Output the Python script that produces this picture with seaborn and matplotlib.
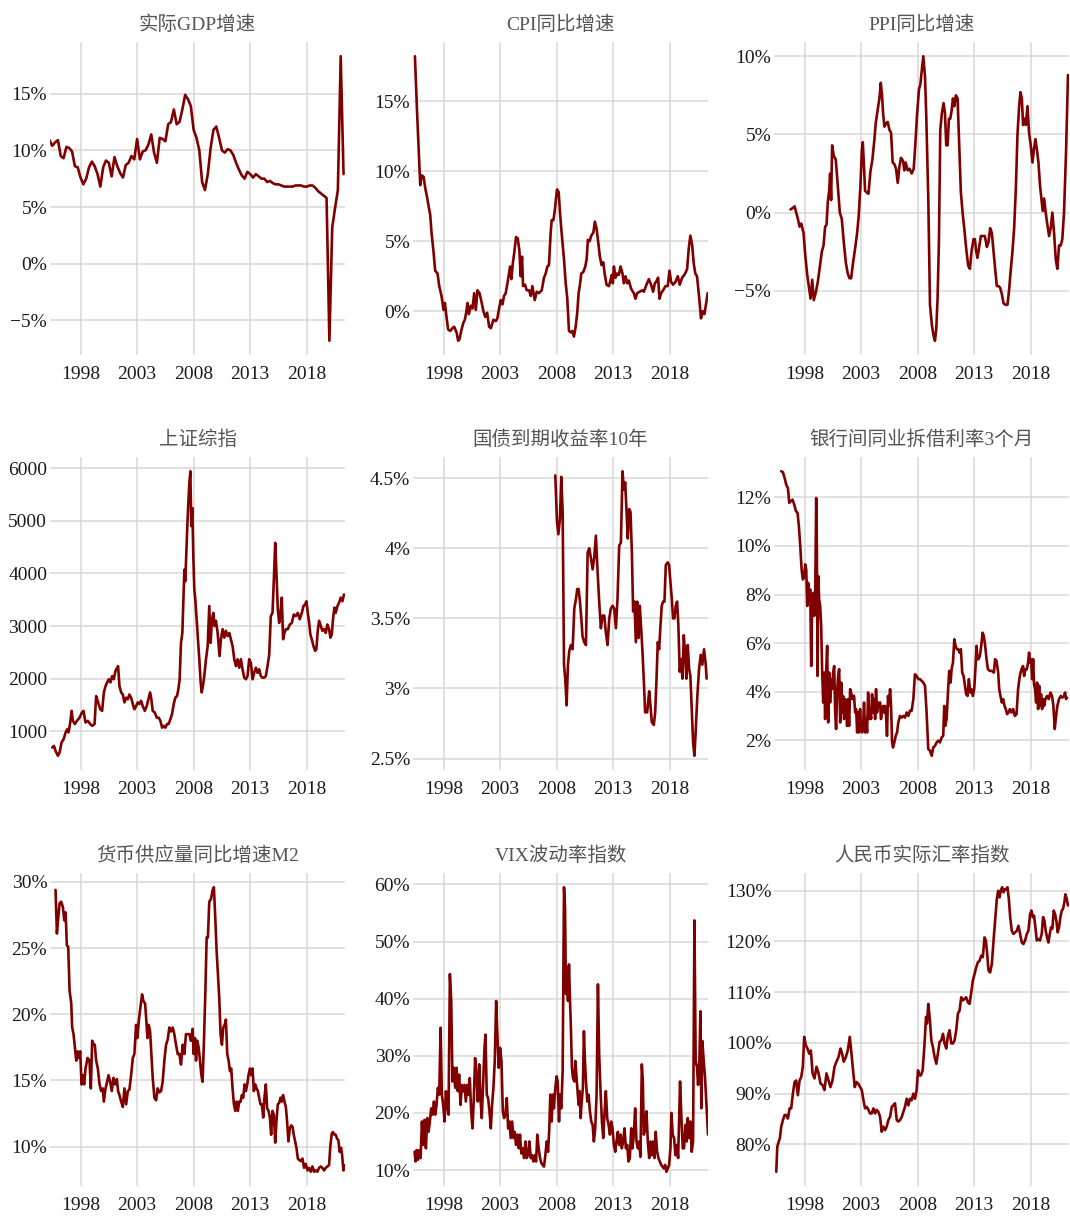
import numpy as np
import pandas as pd
import matplotlib
matplotlib.use("Agg")
import matplotlib.pyplot as plt
import seaborn as sns

# ---------------- data ----------------
gdp_dates = np.arange(1995.25, 2021.26, 0.25)
gdp_values = [10.9, 10.4, 10.7, 10.9, 9.5, 9.3, 10.3, 10.2, 9.9, 8.6,
              8.5, 7.6, 7.0, 7.5, 8.5, 9.0, 8.6, 7.9, 6.8, 8.5,
              9.1, 8.9, 7.7, 9.4, 8.6, 8.0, 7.6, 8.7, 8.9, 9.5,
              9.2, 11.0, 9.2, 9.9, 10.0, 10.5, 11.4, 9.8, 8.9, 11.1,
              11.0, 10.8, 12.3, 12.5, 13.6, 12.3, 12.5, 13.6, 14.9, 14.5,
              13.9, 11.8, 11.1, 10.0, 7.2, 6.5, 7.9, 10.2, 11.8, 12.1,
              11.1, 10.0, 9.8, 10.1, 10.0, 9.6, 8.9, 8.3, 7.8, 7.5,
              8.1, 7.9, 7.6, 7.9, 7.7, 7.5, 7.5, 7.2, 7.3, 7.1,
              7.0, 7.0, 6.9, 6.8, 6.8, 6.8, 6.8, 6.9, 6.9, 6.9,
              6.8, 6.8, 6.9, 6.9, 6.7, 6.4, 6.2, 6.0, 5.8, -6.8,
              3.2, 4.9, 6.5, 18.3, 7.9]

cpi_dates = [1995.47, 1995.65, 1995.79, 1995.94, 1996.06, 1996.24, 1996.38, 1996.53, 1996.68, 1996.82,
             1996.94, 1997.12, 1997.26, 1997.47, 1997.62, 1997.82, 1998.00, 1998.12, 1998.26, 1998.41,
             1998.59, 1998.79, 1998.94, 1999.15, 1999.29, 1999.41, 1999.59, 1999.76, 1999.88, 2000.00,
             2000.12, 2000.24, 2000.41, 2000.56, 2000.71, 2000.85, 2001.00, 2001.18, 2001.35, 2001.53,
             2001.68, 2001.85, 2002.03, 2002.18, 2002.41, 2002.62, 2002.76, 2002.91, 2003.06, 2003.21,
             2003.35, 2003.50, 2003.71, 2003.88, 2004.00, 2004.12, 2004.24, 2004.41, 2004.56, 2004.71,
             2004.82, 2004.94, 2005.03, 2005.21, 2005.35, 2005.56, 2005.71, 2005.85, 2006.06, 2006.24,
             2006.44, 2006.68, 2006.88, 2007.03, 2007.18, 2007.32, 2007.47, 2007.56, 2007.71, 2007.82,
             2007.94, 2008.03, 2008.18, 2008.29, 2008.44, 2008.65, 2008.79, 2008.94, 2009.09, 2009.24,
             2009.38, 2009.53, 2009.68, 2009.82, 2009.94, 2010.06, 2010.18, 2010.35, 2010.53, 2010.65,
             2010.76, 2010.91, 2011.06, 2011.24, 2011.38, 2011.53, 2011.68, 2011.82, 2011.97, 2012.12,
             2012.24, 2012.41, 2012.62, 2012.76, 2012.88, 2012.97, 2013.06, 2013.21, 2013.35, 2013.50,
             2013.65, 2013.82, 2013.94, 2014.09, 2014.24, 2014.38, 2014.59, 2014.82, 2014.97, 2015.12,
             2015.35, 2015.56, 2015.71, 2015.94, 2016.15, 2016.35, 2016.53, 2016.68, 2016.79, 2016.97,
             2017.09, 2017.24, 2017.41, 2017.62, 2017.82, 2017.97, 2018.12, 2018.29, 2018.50, 2018.71,
             2018.88, 2019.09, 2019.29, 2019.53, 2019.68, 2019.82, 2019.97, 2020.12, 2020.26, 2020.41,
             2020.62, 2020.76, 2020.91, 2021.06, 2021.24, 2021.35]
cpi_values = [18.2, 14.4, 11.8, 9.0, 9.7, 9.6, 8.8, 8.2, 7.5, 6.9,
              5.6, 4.2, 2.9, 2.7, 1.8, 1.1, 0.1, 0.6, -0.4, -1.3,
              -1.4, -1.2, -1.1, -1.5, -2.1, -2.0, -1.3, -0.8, -0.6, -0.1,
              0.6, -0.2, 0.4, 0.2, 1.3, 0.1, 1.5, 1.3, 0.7, 0.0,
              -0.4, -0.1, -1.1, -1.2, -0.6, -0.7, -0.5, 0.2, 0.8, 0.5,
              1.1, 1.3, 2.3, 3.2, 2.3, 3.4, 4.1, 5.3, 5.2, 4.3,
              2.5, 3.9, 1.8, 1.9, 1.5, 1.5, 1.1, 1.8, 0.8, 1.4,
              1.3, 1.5, 2.4, 2.7, 3.2, 3.3, 5.6, 6.5, 6.5, 7.1,
              8.0, 8.7, 8.5, 7.1, 5.6, 3.7, 2.1, 0.9, -1.4, -1.5,
              -1.4, -1.8, -1.1, -0.1, 1.3, 1.9, 2.7, 2.8, 3.2, 3.7,
              5.1, 5.0, 5.4, 5.6, 6.4, 5.9, 4.9, 3.9, 3.3, 3.5,
              2.7, 1.9, 1.8, 2.2, 2.6, 2.0, 3.2, 2.4, 2.7, 2.6,
              3.2, 2.7, 2.0, 2.5, 2.0, 2.2, 1.6, 1.3, 0.9, 1.3,
              1.4, 1.5, 1.4, 1.9, 2.3, 1.9, 1.4, 2.0, 2.1, 2.4,
              0.9, 1.3, 1.5, 1.8, 1.8, 2.9, 2.1, 1.9, 2.1, 2.5,
              1.9, 2.4, 2.6, 3.0, 4.5, 5.4, 4.8, 3.4, 2.7, 2.5,
              0.8, -0.5, 0.0, -0.2, 0.7, 1.3]

ppi_dates = [1996.76, 1996.97, 1997.12, 1997.26, 1997.41, 1997.56, 1997.71, 1997.91, 1998.06, 1998.24,
             1998.41, 1998.53, 1998.68, 1998.82, 1999.00, 1999.18, 1999.35, 1999.53, 1999.68, 1999.82,
             1999.94, 2000.06, 2000.18, 2000.26, 2000.35, 2000.44, 2000.59, 2000.76, 2000.94, 2001.12,
             2001.29, 2001.47, 2001.65, 2001.82, 2001.97, 2002.12, 2002.29, 2002.47, 2002.65, 2002.79,
             2002.94, 2003.06, 2003.15, 2003.24, 2003.35, 2003.47, 2003.65, 2003.82, 2004.00, 2004.18,
             2004.29, 2004.47, 2004.62, 2004.74, 2004.85, 2004.94, 2005.06, 2005.21, 2005.35, 2005.50,
             2005.65, 2005.79, 2005.94, 2006.09, 2006.24, 2006.38, 2006.53, 2006.71, 2006.82, 2006.94,
             2007.12, 2007.29, 2007.47, 2007.65, 2007.79, 2007.94, 2008.12, 2008.24, 2008.35, 2008.50,
             2008.65, 2008.76, 2008.94, 2009.09, 2009.26, 2009.41, 2009.53, 2009.65, 2009.76, 2009.88,
             2010.00, 2010.15, 2010.29, 2010.41, 2010.53, 2010.65, 2010.76, 2010.88, 2011.00, 2011.12,
             2011.24, 2011.38, 2011.53, 2011.68, 2011.82, 2011.97, 2012.12, 2012.29, 2012.47, 2012.62,
             2012.76, 2012.94, 2013.06, 2013.18, 2013.29, 2013.44, 2013.59, 2013.74, 2013.94, 2014.12,
             2014.26, 2014.41, 2014.56, 2014.71, 2014.85, 2015.00, 2015.15, 2015.29, 2015.44, 2015.59,
             2015.76, 2015.94, 2016.09, 2016.24, 2016.38, 2016.53, 2016.68, 2016.82, 2016.97, 2017.09,
             2017.21, 2017.32, 2017.44, 2017.56, 2017.71, 2017.85, 2018.00, 2018.15, 2018.29, 2018.41,
             2018.53, 2018.68, 2018.82, 2018.94, 2019.06, 2019.18, 2019.32, 2019.47, 2019.62, 2019.76,
             2019.91, 2020.06, 2020.21, 2020.35, 2020.50, 2020.65, 2020.79, 2020.94, 2021.12, 2021.29]
ppi_values = [0.2, 0.3, 0.4, 0.0, -0.4, -0.9, -0.7, -1.3, -2.7, -4.0,
              -4.9, -5.5, -4.3, -5.6, -5.1, -4.4, -3.5, -2.5, -2.1, -0.9,
              -0.8, 0.7, 1.4, 2.5, 0.8, 4.3, 3.6, 3.4, 1.7, 0.0,
              -0.4, -1.9, -3.2, -3.9, -4.2, -4.2, -3.2, -2.3, -1.3, -0.2,
              1.7, 3.9, 4.5, 3.2, 1.4, 1.3, 1.2, 2.6, 3.4, 4.7,
              5.7, 6.6, 7.3, 8.3, 7.5, 6.4, 5.5, 5.7, 5.8, 5.3,
              5.1, 3.2, 3.1, 2.8, 1.9, 2.9, 3.5, 3.3, 2.7, 3.2,
              2.7, 2.8, 2.5, 2.8, 4.3, 6.2, 7.9, 8.2, 9.0, 10.0,
              8.7, 6.2, 0.9, -5.9, -7.2, -7.9, -8.2, -7.4, -5.5, -1.9,
              5.3, 6.4, 7.0, 6.4, 4.3, 4.3, 6.0, 6.0, 6.5, 7.3,
              6.8, 7.5, 7.3, 4.1, 1.3, 0.0, -1.0, -2.3, -3.4, -3.6,
              -2.5, -1.7, -1.7, -2.5, -2.9, -2.2, -1.5, -1.5, -1.5, -2.2,
              -1.9, -1.0, -1.3, -2.5, -3.6, -4.7, -4.7, -4.8, -5.2, -5.8,
              -5.9, -5.9, -4.9, -3.6, -2.5, -1.0, 1.5, 4.9, 6.8, 7.7,
              7.3, 5.6, 6.0, 5.6, 6.8, 5.1, 4.3, 3.2, 4.1, 4.7,
              4.1, 3.2, 1.7, 0.9, 0.1, 0.9, 0.0, -0.8, -1.5, -1.0,
              0.0, -1.3, -3.0, -3.6, -2.1, -2.1, -1.7, 0.0, 3.9, 8.8]

sse_dates = [1995.50, 1995.65, 1995.79, 1996.00, 1996.15, 1996.32, 1996.50, 1996.68, 1996.82, 1996.94,
             1997.09, 1997.21, 1997.32, 1997.50, 1997.68, 1997.91, 1998.12, 1998.26, 1998.44, 1998.65,
             1998.85, 1999.03, 1999.24, 1999.38, 1999.56, 1999.74, 1999.91, 2000.06, 2000.21, 2000.35,
             2000.50, 2000.65, 2000.79, 2000.94, 2001.09, 2001.24, 2001.32, 2001.44, 2001.59, 2001.74,
             2001.88, 2002.03, 2002.18, 2002.32, 2002.47, 2002.62, 2002.76, 2002.91, 2003.06, 2003.21,
             2003.35, 2003.50, 2003.68, 2003.85, 2004.03, 2004.15, 2004.26, 2004.38, 2004.56, 2004.74,
             2004.91, 2005.06, 2005.21, 2005.35, 2005.50, 2005.65, 2005.79, 2005.94, 2006.09, 2006.24,
             2006.38, 2006.53, 2006.65, 2006.76, 2006.88, 2007.00, 2007.09, 2007.18, 2007.26, 2007.35,
             2007.44, 2007.53, 2007.62, 2007.71, 2007.79, 2007.88, 2007.97, 2008.06, 2008.15, 2008.26,
             2008.38, 2008.50, 2008.62, 2008.71, 2008.82, 2008.94, 2009.09, 2009.24, 2009.38, 2009.50,
             2009.62, 2009.74, 2009.85, 2009.97, 2010.12, 2010.29, 2010.41, 2010.56, 2010.71, 2010.85,
             2011.00, 2011.15, 2011.29, 2011.44, 2011.59, 2011.74, 2011.88, 2012.03, 2012.18, 2012.32,
             2012.47, 2012.62, 2012.76, 2012.91, 2013.06, 2013.21, 2013.35, 2013.50, 2013.65, 2013.79,
             2013.94, 2014.09, 2014.24, 2014.38, 2014.53, 2014.68, 2014.82, 2014.97, 2015.09, 2015.21,
             2015.32, 2015.44, 2015.56, 2015.68, 2015.79, 2015.91, 2016.03, 2016.15, 2016.32, 2016.50,
             2016.68, 2016.85, 2017.03, 2017.21, 2017.38, 2017.56, 2017.71, 2017.85, 2017.97, 2018.09,
             2018.21, 2018.32, 2018.44, 2018.59, 2018.74, 2018.85, 2018.97, 2019.09, 2019.24, 2019.38,
             2019.53, 2019.68, 2019.82, 2019.97, 2020.09, 2020.21, 2020.32, 2020.44, 2020.56, 2020.71,
             2020.85, 2021.00, 2021.15, 2021.29]
sse_values = [694, 725, 630, 537, 600, 790, 850, 980, 1040, 980,
              1170, 1390, 1200, 1140, 1200, 1260, 1360, 1390, 1170, 1200,
              1140, 1105, 1140, 1670, 1550, 1420, 1390, 1740, 1860, 1930,
              1990, 1930, 2050, 1990, 2150, 2210, 2240, 1860, 1740, 1700,
              1550, 1640, 1610, 1700, 1640, 1520, 1420, 1480, 1550, 1520,
              1580, 1480, 1390, 1480, 1640, 1740, 1610, 1390, 1360, 1260,
              1260, 1200, 1070, 1105, 1070, 1140, 1140, 1230, 1330, 1520,
              1640, 1670, 1800, 1990, 2680, 2870, 3500, 4070, 3850, 4390,
              4900, 5340, 5720, 5940, 4900, 5240, 4330, 3690, 3500, 3130,
              2750, 2370, 1930, 1740, 1860, 2050, 2370, 2620, 3380, 2680,
              3130, 3250, 3000, 3100, 2870, 2430, 2750, 2940, 2780, 2910,
              2810, 2870, 2750, 2620, 2370, 2240, 2370, 2210, 2370, 2180,
              2020, 1990, 2050, 2370, 2300, 1990, 2110, 2210, 2110, 2180,
              2050, 2020, 2020, 2050, 2240, 2460, 3190, 3250, 3880, 4580,
              4010, 3320, 3060, 3250, 3540, 2750, 2870, 2940, 2940, 3030,
              3060, 3220, 3190, 3250, 3130, 3250, 3380, 3410, 3470, 3250,
              3060, 2840, 2750, 2620, 2530, 2560, 2910, 3100, 3000, 2910,
              2940, 2870, 3030, 2940, 2780, 2840, 3130, 3350, 3250, 3380,
              3440, 3540, 3470, 3600]

bond_dates = [2007.88, 2008.03, 2008.15, 2008.29, 2008.41, 2008.53, 2008.65, 2008.76, 2008.88, 2009.00,
              2009.12, 2009.26, 2009.41, 2009.56, 2009.71, 2009.82, 2009.94, 2010.06, 2010.18, 2010.29,
              2010.44, 2010.59, 2010.74, 2010.88, 2011.03, 2011.18, 2011.32, 2011.47, 2011.62, 2011.76,
              2011.91, 2012.06, 2012.21, 2012.35, 2012.50, 2012.65, 2012.79, 2012.94, 2013.09, 2013.24,
              2013.38, 2013.53, 2013.68, 2013.82, 2013.94, 2014.06, 2014.18, 2014.29, 2014.41, 2014.53,
              2014.65, 2014.76, 2014.88, 2015.00, 2015.12, 2015.24, 2015.35, 2015.47, 2015.59, 2015.71,
              2015.82, 2016.00, 2016.18, 2016.29, 2016.41, 2016.59, 2016.71, 2016.82, 2016.94, 2017.06,
              2017.18, 2017.29, 2017.41, 2017.53, 2017.65, 2017.82, 2017.94, 2018.06, 2018.18, 2018.29,
              2018.41, 2018.53, 2018.65, 2018.76, 2018.88, 2019.00, 2019.12, 2019.24, 2019.35, 2019.47,
              2019.59, 2019.71, 2019.82, 2019.94, 2020.06, 2020.18, 2020.29, 2020.44, 2020.59, 2020.74,
              2020.88, 2021.03, 2021.18, 2021.26]
bond_values = [4.52, 4.19, 4.10, 4.21, 4.51, 4.26, 3.17, 3.07, 2.88, 3.17,
               3.27, 3.31, 3.28, 3.57, 3.64, 3.71, 3.71, 3.62, 3.50, 3.37,
               3.33, 3.31, 3.97, 4.00, 3.93, 3.85, 3.93, 4.09, 3.83, 3.62,
               3.43, 3.52, 3.52, 3.40, 3.31, 3.50, 3.57, 3.59, 3.57, 3.43,
               3.64, 4.02, 4.04, 4.55, 4.42, 4.47, 4.26, 4.07, 4.28, 4.26,
               3.97, 3.55, 3.62, 3.33, 3.62, 3.36, 3.59, 3.43, 3.26, 3.05,
               2.83, 2.83, 2.98, 2.88, 2.76, 2.74, 2.83, 3.05, 3.33, 3.28,
               3.45, 3.59, 3.62, 3.62, 3.88, 3.90, 3.88, 3.76, 3.64, 3.50,
               3.50, 3.59, 3.62, 3.45, 3.12, 3.21, 3.07, 3.38, 3.26, 3.07,
               3.31, 3.14, 3.09, 2.86, 2.62, 2.52, 2.69, 2.95, 3.14, 3.24,
               3.17, 3.28, 3.17, 3.07]

ib_dates = [1995.94, 1996.09, 1996.24, 1996.38, 1996.53, 1996.65, 1996.79, 1996.94, 1997.09, 1997.24,
            1997.38, 1997.50, 1997.62, 1997.74, 1997.85, 1997.94, 1998.06, 1998.15, 1998.24, 1998.32,
            1998.41, 1998.50, 1998.59, 1998.68, 1998.76, 1998.85, 1998.94, 1999.03, 1999.09, 1999.15,
            1999.21, 1999.29, 1999.38, 1999.47, 1999.56, 1999.65, 1999.74, 1999.82, 1999.91, 2000.00,
            2000.09, 2000.18, 2000.26, 2000.35, 2000.44, 2000.53, 2000.62, 2000.71, 2000.79, 2000.88,
            2000.97, 2001.06, 2001.15, 2001.24, 2001.32, 2001.41, 2001.50, 2001.59, 2001.68, 2001.76,
            2001.85, 2001.94, 2002.03, 2002.12, 2002.21, 2002.29, 2002.38, 2002.47, 2002.56, 2002.65,
            2002.74, 2002.82, 2002.91, 2003.00, 2003.09, 2003.18, 2003.26, 2003.35, 2003.44, 2003.53,
            2003.62, 2003.71, 2003.79, 2003.88, 2003.97, 2004.06, 2004.15, 2004.24, 2004.32, 2004.41,
            2004.50, 2004.59, 2004.68, 2004.76, 2004.85, 2004.94, 2005.03, 2005.12, 2005.21, 2005.29,
            2005.38, 2005.47, 2005.56, 2005.65, 2005.74, 2005.82, 2005.94, 2006.06, 2006.18, 2006.29,
            2006.44, 2006.59, 2006.74, 2006.88, 2007.03, 2007.18, 2007.32, 2007.47, 2007.62, 2007.76,
            2007.91, 2008.06, 2008.21, 2008.35, 2008.50, 2008.65, 2008.79, 2008.94, 2009.09, 2009.24,
            2009.38, 2009.53, 2009.68, 2009.82, 2009.97, 2010.12, 2010.26, 2010.35, 2010.44, 2010.56,
            2010.68, 2010.79, 2010.91, 2011.00, 2011.12, 2011.24, 2011.35, 2011.47, 2011.59, 2011.71,
            2011.82, 2011.94, 2012.06, 2012.18, 2012.29, 2012.41, 2012.53, 2012.65, 2012.76, 2012.88,
            2013.00, 2013.12, 2013.21, 2013.29, 2013.38, 2013.50, 2013.62, 2013.74, 2013.85, 2013.97,
            2014.09, 2014.21, 2014.38, 2014.56, 2014.74, 2014.85, 2014.97, 2015.12, 2015.21, 2015.32,
            2015.44, 2015.56, 2015.68, 2015.79, 2015.91, 2016.03, 2016.15, 2016.29, 2016.44, 2016.59,
            2016.74, 2016.88, 2017.03, 2017.18, 2017.32, 2017.41, 2017.53, 2017.65, 2017.76, 2017.85,
            2017.94, 2018.03, 2018.12, 2018.21, 2018.29, 2018.38, 2018.47, 2018.56, 2018.65, 2018.74,
            2018.82, 2018.91, 2019.00, 2019.09, 2019.18, 2019.29, 2019.44, 2019.59, 2019.74, 2019.88,
            2020.00, 2020.12, 2020.24, 2020.35, 2020.50, 2020.65, 2020.79, 2020.94, 2021.03, 2021.12,
            2021.21]
ib_values = [13.07, 13.03, 12.79, 12.52, 12.38, 11.77, 11.84, 11.90, 11.70, 11.43,
             11.36, 10.81, 10.0, 9.03, 8.62, 8.69, 9.24, 9.03, 7.53, 8.48,
             7.94, 8.21, 5.06, 7.80, 8.07, 7.12, 7.80, 11.97, 10.0, 4.65,
             8.76, 7.80, 7.53, 6.71, 4.79, 3.56, 4.79, 2.88, 4.79, 5.89,
             2.74, 4.79, 3.56, 4.52, 4.11, 4.79, 5.06, 3.15, 2.47, 3.97,
             4.65, 4.93, 2.74, 4.38, 3.15, 3.83, 2.88, 3.70, 3.56, 2.60,
             3.70, 2.60, 4.11, 3.97, 3.70, 3.83, 3.83, 3.15, 3.29, 2.33,
             3.15, 2.33, 3.29, 2.47, 2.33, 2.60, 3.56, 2.33, 2.88, 2.33,
             3.97, 2.88, 3.29, 2.88, 3.90, 3.15, 3.70, 2.88, 4.11, 3.15,
             3.56, 3.42, 3.56, 2.88, 3.29, 3.42, 3.15, 3.42, 3.01, 2.19,
             3.83, 3.42, 4.11, 3.42, 1.92, 1.71, 1.92, 2.19, 2.33, 2.74,
             3.01, 2.94, 3.01, 2.94, 3.15, 3.01, 3.22, 3.22, 3.70, 4.72,
             4.65, 4.52, 4.52, 4.45, 4.38, 4.25, 3.15, 1.64, 1.58, 1.37,
             1.71, 1.78, 1.92, 1.99, 1.92, 2.12, 2.19, 3.42, 2.60, 2.88,
             3.97, 4.86, 4.38, 4.93, 5.20, 6.16, 5.89, 5.75, 5.75, 5.61,
             5.75, 4.79, 4.65, 4.25, 3.90, 3.83, 4.52, 3.97, 4.11, 3.83,
             4.11, 5.06, 5.89, 5.34, 5.34, 5.47, 5.89, 6.43, 6.30, 5.89,
             5.34, 4.93, 4.86, 4.86, 4.79, 5.34, 5.27, 4.79, 4.11, 3.83,
             3.56, 3.70, 3.42, 3.29, 3.08, 3.15, 3.29, 3.15, 3.29, 3.01,
             3.08, 4.11, 4.65, 4.93, 5.06, 4.65, 4.93, 4.93, 5.20, 5.61,
             5.20, 5.34, 4.52, 5.34, 4.31, 4.11, 3.56, 4.38, 3.29, 4.25,
             3.42, 3.90, 3.29, 3.70, 3.42, 3.70, 3.83, 3.70, 3.97, 3.83,
             3.42, 2.47, 3.01, 3.42, 3.70, 3.83, 3.76, 3.83, 3.97, 3.70,
             3.76]

m2_dates = [1995.79, 1995.91, 1996.03, 1996.15, 1996.29, 1996.44, 1996.56, 1996.68, 1996.79, 1996.91,
            1997.03, 1997.18, 1997.26, 1997.38, 1997.50, 1997.62, 1997.74, 1997.85, 1997.97, 1998.09,
            1998.21, 1998.32, 1998.44, 1998.62, 1998.79, 1998.91, 1999.03, 1999.15, 1999.26, 1999.38,
            1999.53, 1999.68, 1999.82, 1999.97, 2000.06, 2000.21, 2000.35, 2000.47, 2000.62, 2000.76,
            2000.91, 2001.06, 2001.21, 2001.32, 2001.44, 2001.59, 2001.74, 2001.88, 2002.03, 2002.18,
            2002.32, 2002.47, 2002.62, 2002.76, 2002.91, 2003.03, 2003.15, 2003.29, 2003.44, 2003.56,
            2003.71, 2003.82, 2003.91, 2004.03, 2004.15, 2004.26, 2004.38, 2004.53, 2004.68, 2004.82,
            2004.97, 2005.12, 2005.26, 2005.41, 2005.56, 2005.71, 2005.85, 2006.00, 2006.15, 2006.29,
            2006.44, 2006.59, 2006.74, 2006.88, 2007.03, 2007.18, 2007.32, 2007.47, 2007.62, 2007.76,
            2007.91, 2008.00, 2008.12, 2008.21, 2008.32, 2008.44, 2008.56, 2008.68, 2008.79, 2008.91,
            2009.03, 2009.15, 2009.26, 2009.38, 2009.53, 2009.68, 2009.79, 2009.91, 2010.03, 2010.15,
            2010.26, 2010.38, 2010.50, 2010.62, 2010.74, 2010.85, 2010.97, 2011.09, 2011.21, 2011.32,
            2011.44, 2011.56, 2011.68, 2011.79, 2011.91, 2012.03, 2012.15, 2012.26, 2012.38, 2012.50,
            2012.62, 2012.74, 2012.85, 2012.97, 2013.09, 2013.21, 2013.32, 2013.44, 2013.56, 2013.68,
            2013.79, 2013.91, 2014.03, 2014.15, 2014.26, 2014.38, 2014.50, 2014.62, 2014.74, 2014.85,
            2014.97, 2015.09, 2015.21, 2015.32, 2015.44, 2015.56, 2015.68, 2015.79, 2015.91, 2016.03,
            2016.15, 2016.26, 2016.38, 2016.50, 2016.62, 2016.74, 2016.85, 2016.97, 2017.09, 2017.21,
            2017.32, 2017.47, 2017.62, 2017.76, 2017.91, 2018.06, 2018.21, 2018.35, 2018.50, 2018.65,
            2018.79, 2018.94, 2019.09, 2019.24, 2019.38, 2019.53, 2019.68, 2019.82, 2019.97, 2020.09,
            2020.21, 2020.32, 2020.44, 2020.56, 2020.68, 2020.79, 2020.91, 2021.03, 2021.12, 2021.24,
            2021.32]
m2_values = [29.4, 26.1, 27.3, 28.4, 28.5, 28.1, 27.1, 27.7, 25.2, 25.1,
             21.8, 20.8, 19.0, 18.5, 17.5, 16.5, 17.2, 16.7, 17.2, 14.7,
             15.4, 14.7, 15.9, 16.7, 16.5, 14.4, 18.0, 17.7, 17.7, 16.5,
             15.9, 14.7, 14.2, 14.4, 13.4, 14.4, 14.9, 15.4, 14.9, 14.2,
             15.2, 14.7, 15.1, 14.2, 13.9, 13.4, 13.0, 14.4, 13.2, 14.2,
             14.3, 15.4, 16.7, 17.0, 19.2, 18.2, 19.5, 20.5, 21.5, 21.0,
             20.8, 19.5, 18.2, 19.2, 18.7, 17.0, 15.2, 13.7, 13.5, 14.4,
             14.1, 14.2, 14.9, 16.5, 17.7, 18.1, 19.0, 18.7, 19.0, 18.5,
             17.7, 17.0, 17.0, 16.2, 17.7, 17.0, 18.5, 18.5, 18.5, 18.0,
             18.9, 17.0, 18.2, 16.5, 18.0, 17.5, 16.5, 15.4, 14.9, 18.0,
             21.5, 25.8, 25.8, 28.5, 28.7, 29.4, 29.6, 27.3, 24.8, 23.0,
             21.3, 18.5, 17.7, 19.0, 19.2, 19.6, 17.0, 16.5, 15.7, 15.9,
             14.4, 13.2, 12.7, 13.4, 12.7, 13.4, 13.4, 13.9, 13.7, 14.7,
             14.2, 14.7, 15.4, 15.9, 15.4, 15.9, 14.2, 14.7, 14.4, 14.2,
             13.7, 13.2, 13.2, 12.2, 13.7, 14.7, 12.9, 12.7, 12.2, 10.9,
             12.7, 12.4, 10.3, 11.9, 13.2, 13.3, 13.7, 13.4, 13.9, 13.4,
             13.0, 11.9, 10.4, 11.4, 11.6, 11.5, 10.9, 10.4, 9.9, 9.1,
             9.0, 8.9, 9.1, 8.4, 8.7, 8.2, 8.4, 8.1, 8.5, 8.1,
             8.2, 8.1, 8.4, 8.5, 8.4, 8.2, 8.4, 8.5, 8.6, 10.1,
             11.0, 11.1, 10.9, 10.9, 10.6, 10.5, 9.6, 9.9, 9.4, 8.2,
             8.6]

vix_dates = [1995.44, 1995.53, 1995.62, 1995.74, 1995.85, 1995.97, 1996.09, 1996.21, 1996.32, 1996.44,
             1996.56, 1996.68, 1996.79, 1996.91, 1997.03, 1997.15, 1997.26, 1997.38, 1997.50, 1997.62,
             1997.74, 1997.85, 1997.97, 1998.09, 1998.21, 1998.32, 1998.44, 1998.56, 1998.68, 1998.79,
             1998.91, 1999.03, 1999.15, 1999.26, 1999.38, 1999.50, 1999.62, 1999.74, 1999.85, 1999.97,
             2000.09, 2000.21, 2000.32, 2000.44, 2000.56, 2000.68, 2000.79, 2000.91, 2001.03, 2001.15,
             2001.26, 2001.38, 2001.50, 2001.62, 2001.71, 2001.82, 2001.94, 2002.06, 2002.18, 2002.29,
             2002.41, 2002.53, 2002.65, 2002.76, 2002.88, 2003.00, 2003.12, 2003.24, 2003.35, 2003.47,
             2003.59, 2003.71, 2003.82, 2003.94, 2004.06, 2004.18, 2004.29, 2004.41, 2004.53, 2004.65,
             2004.76, 2004.88, 2005.00, 2005.12, 2005.24, 2005.35, 2005.47, 2005.59, 2005.71, 2005.82,
             2005.94, 2006.06, 2006.18, 2006.29, 2006.41, 2006.53, 2006.65, 2006.76, 2006.88, 2007.00,
             2007.12, 2007.24, 2007.35, 2007.44, 2007.56, 2007.65, 2007.76, 2007.88, 2008.00, 2008.09,
             2008.21, 2008.29, 2008.41, 2008.53, 2008.65, 2008.74, 2008.82, 2008.91, 2009.00, 2009.09,
             2009.18, 2009.26, 2009.35, 2009.44, 2009.56, 2009.65, 2009.74, 2009.82, 2009.94, 2010.03,
             2010.12, 2010.21, 2010.32, 2010.41, 2010.50, 2010.59, 2010.71, 2010.82, 2010.94, 2011.06,
             2011.18, 2011.29, 2011.41, 2011.53, 2011.65, 2011.76, 2011.88, 2012.00, 2012.12, 2012.24,
             2012.35, 2012.47, 2012.59, 2012.71, 2012.82, 2012.94, 2013.06, 2013.18, 2013.29, 2013.41,
             2013.53, 2013.65, 2013.76, 2013.88, 2014.00, 2014.12, 2014.24, 2014.35, 2014.47, 2014.59,
             2014.71, 2014.82, 2014.94, 2015.06, 2015.18, 2015.29, 2015.41, 2015.53, 2015.62, 2015.71,
             2015.82, 2015.94, 2016.06, 2016.18, 2016.29, 2016.41, 2016.53, 2016.65, 2016.76, 2016.88,
             2017.00, 2017.12, 2017.24, 2017.35, 2017.47, 2017.59, 2017.71, 2017.82, 2017.94, 2018.06,
             2018.15, 2018.26, 2018.38, 2018.50, 2018.62, 2018.74, 2018.82, 2018.91, 2019.03, 2019.15,
             2019.26, 2019.38, 2019.50, 2019.59, 2019.71, 2019.82, 2019.94, 2020.06, 2020.18, 2020.29,
             2020.41, 2020.50, 2020.62, 2020.71, 2020.79, 2020.88, 2021.00, 2021.12, 2021.24, 2021.38]
vix_values = [13.2, 11.5, 13.5, 11.8, 13.5, 12.1, 18.5, 14.4, 18.8, 13.8,
              19.1, 16.7, 18.5, 20.8, 19.7, 22.0, 19.7, 21.4, 24.4, 23.2,
              34.9, 23.2, 21.4, 18.5, 23.8, 21.4, 19.7, 44.3, 39.6, 25.5,
              27.9, 24.4, 27.9, 23.8, 26.7, 21.4, 24.9, 23.8, 24.9, 22.0,
              24.9, 23.2, 26.1, 20.3, 17.3, 22.6, 29.6, 26.7, 22.0, 28.5,
              22.6, 19.1, 25.5, 31.4, 33.7, 23.2, 22.6, 20.3, 17.3, 21.4,
              24.4, 29.1, 39.6, 33.7, 27.9, 31.4, 29.1, 20.3, 19.1, 19.7,
              22.6, 17.3, 18.5, 15.6, 18.5, 15.6, 16.7, 14.4, 16.2, 13.8,
              16.2, 12.9, 13.8, 12.1, 15.0, 12.1, 12.6, 15.0, 12.1, 12.6,
              11.5, 12.6, 11.5, 16.2, 13.8, 12.1, 11.2, 10.9, 10.6, 12.6,
              15.0, 13.2, 17.3, 23.2, 18.5, 23.2, 20.8, 24.4, 26.4, 25.5,
              18.5, 23.2, 20.8, 27.3, 59.5, 56.0, 40.8, 45.5, 39.6, 46.0,
              39.6, 34.9, 27.9, 26.1, 25.5, 29.1, 26.7, 24.4, 21.4, 23.8,
              19.1, 22.0, 24.4, 34.3, 29.1, 25.5, 22.0, 23.2, 20.3, 18.5,
              17.9, 15.0, 17.3, 23.2, 42.5, 30.2, 23.8, 18.5, 15.6, 20.3,
              23.8, 19.1, 17.9, 16.2, 18.5, 17.3, 14.4, 13.2, 15.0, 16.7,
              14.4, 16.2, 13.8, 15.0, 17.3, 13.8, 14.4, 11.5, 12.1, 17.3,
              13.8, 16.2, 20.8, 15.0, 13.8, 15.0, 12.3, 28.5, 25.5, 16.2,
              17.3, 20.3, 15.0, 12.1, 15.0, 12.6, 15.0, 12.1, 16.7, 13.2,
              12.1, 11.5, 10.9, 10.6, 10.3, 10.9, 9.7, 10.3, 10.9, 13.8,
              20.0, 16.2, 15.6, 12.6, 14.4, 12.1, 18.5, 25.5, 19.1, 13.8,
              13.8, 17.9, 15.0, 19.1, 15.6, 18.5, 13.2, 15.0, 53.7, 29.1,
              27.9, 24.9, 29.1, 37.8, 20.8, 32.6, 29.1, 26.1, 21.4, 16.2]

reer_dates = [1995.50, 1995.59, 1995.71, 1995.82, 1995.94, 1996.09, 1996.24, 1996.38, 1996.53, 1996.68,
              1996.82, 1996.97, 1997.12, 1997.26, 1997.41, 1997.56, 1997.71, 1997.85, 1997.97, 1998.12,
              1998.26, 1998.41, 1998.56, 1998.71, 1998.88, 1999.06, 1999.24, 1999.41, 1999.59, 1999.76,
              1999.94, 2000.12, 2000.29, 2000.47, 2000.65, 2000.82, 2001.00, 2001.18, 2001.32, 2001.47,
              2001.65, 2001.82, 2002.00, 2002.15, 2002.29, 2002.44, 2002.59, 2002.74, 2002.91, 2003.06,
              2003.21, 2003.35, 2003.50, 2003.65, 2003.79, 2003.94, 2004.09, 2004.24, 2004.38, 2004.53,
              2004.68, 2004.82, 2004.97, 2005.12, 2005.26, 2005.41, 2005.56, 2005.71, 2005.85, 2006.00,
              2006.15, 2006.29, 2006.44, 2006.59, 2006.74, 2006.88, 2007.03, 2007.18, 2007.32, 2007.47,
              2007.62, 2007.76, 2007.91, 2008.03, 2008.15, 2008.29, 2008.44, 2008.59, 2008.74, 2008.82,
              2008.94, 2009.06, 2009.21, 2009.35, 2009.50, 2009.65, 2009.79, 2009.94, 2010.09, 2010.24,
              2010.38, 2010.53, 2010.68, 2010.82, 2010.97, 2011.12, 2011.26, 2011.41, 2011.56, 2011.71,
              2011.85, 2012.00, 2012.15, 2012.29, 2012.44, 2012.59, 2012.74, 2012.88, 2013.03, 2013.18,
              2013.32, 2013.47, 2013.62, 2013.76, 2013.91, 2014.03, 2014.15, 2014.26, 2014.41, 2014.56,
              2014.71, 2014.85, 2015.00, 2015.12, 2015.24, 2015.35, 2015.47, 2015.59, 2015.71, 2015.82,
              2015.94, 2016.06, 2016.18, 2016.32, 2016.47, 2016.62, 2016.76, 2016.91, 2017.06, 2017.21,
              2017.35, 2017.50, 2017.65, 2017.79, 2017.94, 2018.06, 2018.18, 2018.29, 2018.41, 2018.53,
              2018.68, 2018.82, 2018.97, 2019.09, 2019.21, 2019.32, 2019.44, 2019.56, 2019.68, 2019.79,
              2019.91, 2020.03, 2020.15, 2020.26, 2020.38, 2020.50, 2020.62, 2020.74, 2020.85, 2020.97,
              2021.06, 2021.18, 2021.29]
reer_values = [74.6, 79.5, 80.5, 81.2, 83.5, 84.8, 85.8, 85.8, 85.1, 87.1,
               87.1, 90.0, 92.3, 92.6, 89.7, 92.6, 93.3, 95.3, 101.2, 99.5,
               98.9, 97.9, 98.5, 94.0, 93.0, 95.3, 94.0, 92.0, 91.7, 90.7,
               94.0, 92.6, 91.3, 92.6, 95.3, 96.3, 97.2, 98.9, 97.9, 96.3,
               97.2, 98.5, 101.2, 97.9, 94.6, 91.3, 92.3, 92.0, 91.3, 90.7,
               88.7, 87.1, 87.4, 86.8, 86.1, 86.1, 87.1, 86.1, 86.8, 86.4,
               85.4, 82.5, 83.5, 82.8, 83.5, 84.8, 85.4, 87.4, 87.7, 88.1,
               84.8, 84.5, 84.8, 85.4, 86.4, 87.4, 89.0, 87.7, 89.0, 88.7,
               90.0, 89.0, 90.7, 94.6, 93.6, 93.6, 94.6, 99.2, 105.1, 103.8,
               107.7, 105.1, 100.5, 99.2, 97.2, 95.9, 97.9, 100.2, 100.5, 101.8,
               99.9, 98.9, 101.5, 102.5, 99.9, 99.9, 100.5, 102.5, 105.8, 106.4,
               109.0, 108.4, 108.7, 109.0, 108.0, 107.7, 110.0, 112.3, 113.6, 114.9,
               115.9, 116.2, 117.2, 116.9, 120.8, 120.2, 117.5, 114.3, 113.9, 115.6,
               120.2, 124.1, 128.4, 130.0, 128.7, 130.0, 130.7, 129.7, 130.3, 130.3,
               130.7, 128.4, 124.8, 122.1, 121.5, 121.8, 122.1, 123.1, 121.5, 119.8,
               119.5, 120.2, 121.5, 122.1, 125.4, 126.1, 124.8, 125.1, 122.8, 120.2,
               120.5, 120.2, 121.5, 124.8, 124.1, 122.1, 120.8, 119.8, 121.5, 122.8,
               122.5, 126.1, 125.4, 124.1, 121.8, 122.8, 124.8, 126.1, 126.4, 127.7,
               129.3, 128.4, 127.1]

titles = ["实际GDP增速", "CPI同比增速", "PPI同比增速",
          "上证综指", "国债到期收益率10年", "银行间同业拆借利率3个月",
          "货币供应量同比增速M2", "VIX波动率指数", "人民币实际汇率指数"]
y_ticks = [[-5, 0, 5, 10, 15], [0, 5, 10, 15], [-5, 0, 5, 10],
           [1000, 2000, 3000, 4000, 5000, 6000], [2.5, 3, 3.5, 4, 4.5], [2, 4, 6, 8, 10, 12],
           [10, 15, 20, 25, 30], [10, 20, 30, 40, 50, 60], [80, 90, 100, 110, 120, 130]]
pct_axis = [True, True, True, False, True, True, True, True, True]
x_ticks = [1998, 2003, 2008, 2013, 2018]

series = [(gdp_dates, gdp_values), (cpi_dates, cpi_values), (ppi_dates, ppi_values),
          (sse_dates, sse_values), (bond_dates, bond_values), (ib_dates, ib_values),
          (m2_dates, m2_values), (vix_dates, vix_values), (reer_dates, reer_values)]

# ---------------- style ----------------
sns.set_style("white")
plt.rcParams["font.family"] = ["Liberation Serif", "Noto Sans CJK SC", "DejaVu Sans"]
plt.rcParams["axes.unicode_minus"] = True

W, H = 1070, 1219
fig = plt.figure(figsize=(W / 100, H / 100), dpi=100)
fig.patch.set_facecolor("white")

col_left = [50, 413, 774]
row_top = [42, 457, 873]
pw, ph = 295, 313
line_color = "#800000"
grid_color = "#d9d9d9"


def fmt_label(v, pct):
    s = f"{v:g}"
    s = s.replace("-", "\u2212")
    return s + ("%" if pct else "")


for k, ((dts, vals), title, ticks, pct) in enumerate(zip(series, titles, y_ticks, pct_axis)):
    r, c = divmod(k, 3)
    ax = fig.add_axes([col_left[c] / W, (H - row_top[r] - ph) / H, pw / W, ph / H])
    df = pd.DataFrame({"date": dts, "value": vals})
    sns.lineplot(data=df, x="date", y="value", ax=ax, color=line_color,
                 linewidth=1.9, estimator=None, sort=False)
    ax.set_xlim(1995.3, 2021.38)
    lo, hi = min(vals), max(vals)
    rng = hi - lo
    ax.set_ylim(lo - 0.05 * rng, hi + 0.05 * rng)
    ax.set_xticks(x_ticks)
    ax.set_xticklabels([str(t) for t in x_ticks])
    ax.set_yticks(ticks)
    ax.set_yticklabels([fmt_label(t, pct) for t in ticks])
    ax.set_xlabel("")
    ax.set_ylabel("")
    ax.grid(True, color=grid_color, linewidth=1.1)
    ax.set_axisbelow(True)
    for sp in ax.spines.values():
        sp.set_visible(False)
    ax.tick_params(axis="both", length=0, labelsize=14, labelcolor="#1a1a1a")
    ax.tick_params(axis="x", pad=8)
    ax.tick_params(axis="y", pad=2)
    ax.set_title(title, fontsize=14, color="#555555", pad=9)

fig.savefig("out.png", dpi=100, facecolor="white")
